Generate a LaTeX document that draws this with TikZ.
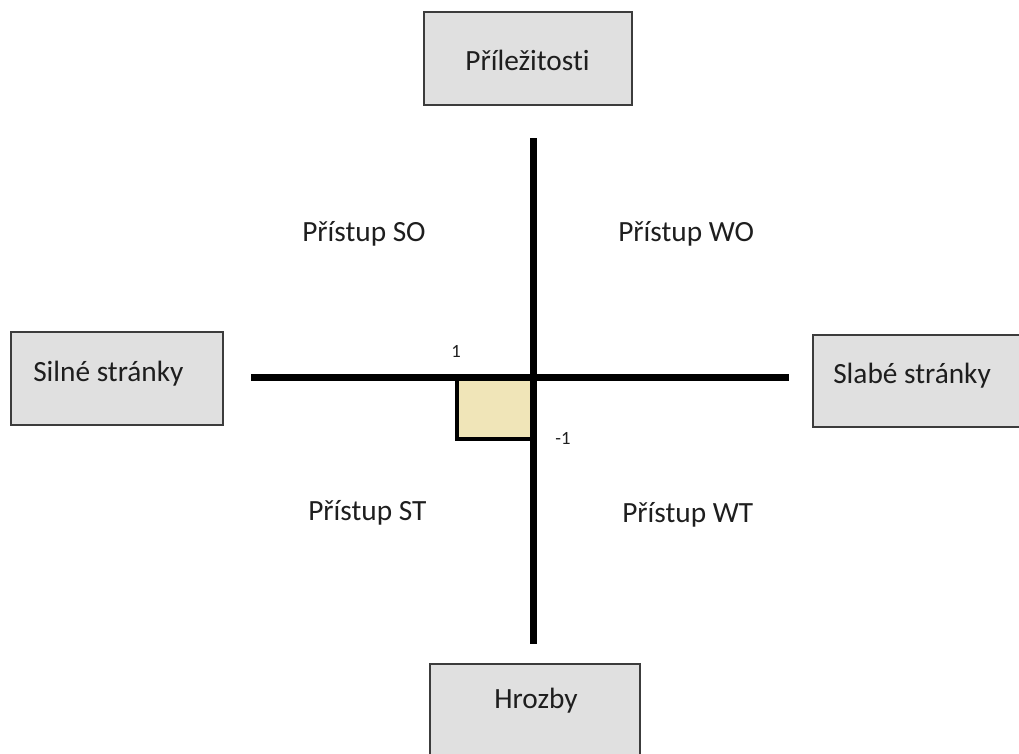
\documentclass[tikz,border=0pt]{standalone}
\usepackage{fontspec}
\setmainfont[Ligatures={NoCommon}]{Carlito}
\definecolor{boxgray}{RGB}{224,224,224}
\definecolor{edgegray}{RGB}{60,60,60}
\definecolor{sand}{RGB}{240,229,184}
\definecolor{ink}{RGB}{30,30,30}
\tikzset{
	fieldbox/.style={draw=edgegray,line width=1.1pt,fill=boxgray,inner sep=0pt},
	caption/.style={text=ink,font=\fontsize{22}{26}\selectfont,inner sep=0pt},
	tick/.style={text=ink,font=\fontsize{14}{16}\selectfont,inner sep=0pt},
	axis/.style={line width=5pt}
}
\begin{document}
\begin{tikzpicture}[x=0.75pt,y=-0.75pt]
		\useasboundingbox (0,0) rectangle (1019,753);

		\node[fieldbox,minimum width=208*0.75pt,minimum height=93*0.75pt] (prilez) at (528,58.5) {};
		\node[fieldbox,minimum width=212*0.75pt,minimum height=93*0.75pt] (silne) at (117,378.5) {};
		\node[fieldbox,minimum width=215*0.75pt,minimum height=92*0.75pt] (slabe) at (920.5,381) {};
		\node[fieldbox,minimum width=210*0.75pt,minimum height=96*0.75pt] (hrozby) at (535,712) {};

		\node[caption,anchor=base] (prilezT) at (527.5,70) {Příležitosti};
		\node[caption,anchor=base west] (silneT) at (33,381.5) {Silné stránky};
		\node[caption,anchor=base west] (slabeT) at (833,383) {Slabé stránky};
		\node[caption,anchor=base] (hrozbyT) at (536,708) {Hrozby};

		% axes
		\coordinate (top) at (533.5,138);
		\coordinate (bottom) at (533.5,644);
		\coordinate (left) at (251,377.5);
		\coordinate (right) at (789,377.5);
		\coordinate (origin) at (533.5,377.5);

		\filldraw[fill=sand,line width=3pt] (origin) -- (456.5,377.5) -- (456.5,438.5) -- (533.5,438.5);
		\draw[axis] (top) -- (bottom);
		\draw[axis] (left) -- (right);

		\node[tick] (one) at (456,351) {1};
		\node[tick] (minusone) at (563,438.5) {-1};

		\node[caption,anchor=base west] (so) at (302,241) {Přístup SO};
		\node[caption,anchor=base west] (wo) at (618,241) {Přístup WO};
		\node[caption,anchor=base west] (st) at (308,520) {Přístup ST};
		\node[caption,anchor=base west] (wt) at (622,522) {Přístup WT};
	\end{tikzpicture}
\end{document}
